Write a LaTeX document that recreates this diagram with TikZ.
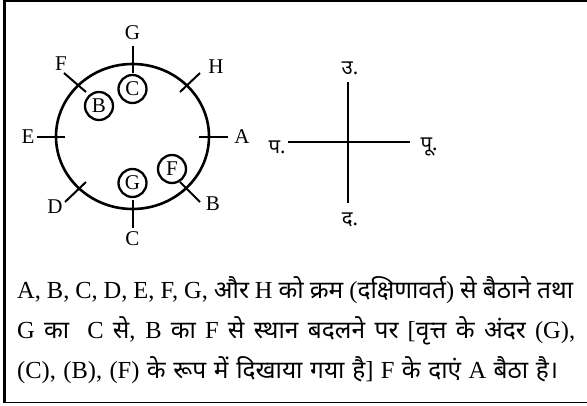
\documentclass[tikz,border=0pt]{standalone}
\usepackage{fontspec}
\setmainfont{Liberation Serif}
\newfontfamily\dev[Script=Devanagari,Scale=1.0]{Noto Sans}
\begin{document}
\begin{tikzpicture}[x=1pt,y=-1pt,
  lbl/.style={font=\fontsize{21}{24}\selectfont, inner sep=0pt},
  inner/.style={circle, draw, line width=2.3pt, minimum size=28pt, inner sep=0pt, font=\fontsize{21}{24}\selectfont},
  tick/.style={line width=2pt},
  cmp/.style={line width=2.7pt},
  dir/.style={font=\dev\fontsize{20.3}{22}\selectfont, inner sep=0pt},
  txt/.style={font=\fontsize{24.5}{27}\selectfont, inner sep=0pt, anchor=base west}]
\useasboundingbox (0,0) rectangle (587,406);
% frame
\draw[line width=2.6pt] (4.5,0) -- (4.5,403);
\draw[line width=1.3pt] (4.5,1) -- (587,1);
\draw[line width=1.3pt] (4.5,402.5) -- (587,402.5);
% circle
\coordinate (O) at (132.5,136.5);
\draw[line width=2.6pt] (O) ellipse [x radius=76.5pt, y radius=72.5pt];
% ticks
\coordinate (tGa) at (132.5,46); \coordinate (tGb) at (132.5,73);
\coordinate (tHa) at (200,73);  \coordinate (tHb) at (180,92);
\coordinate (tAa) at (228,137); \coordinate (tAb) at (199,137);
\coordinate (tBa) at (200,202); \coordinate (tBb) at (180,182);
\coordinate (tCa) at (132.5,228); \coordinate (tCb) at (132.5,200);
\coordinate (tDa) at (65,202);  \coordinate (tDb) at (86,182);
\coordinate (tEa) at (37,137);  \coordinate (tEb) at (65,137);
\coordinate (tFa) at (64,73);   \coordinate (tFb) at (86,92);
\foreach \p in {G,H,A,B,C,D,E,F} \draw[tick] (t\p a) -- (t\p b);
% outer labels
\node[lbl] (lG) at (132.5,33) {G};
\node[lbl] (lH) at (216,67) {H};
\node[lbl] (lA) at (242,137) {A};
\node[lbl] (lB) at (213,204) {B};
\node[lbl] (lC) at (132.5,239) {C};
\node[lbl] (lD) at (55,207) {D};
\node[lbl] (lE) at (28,137) {E};
\node[lbl] (lF) at (61,64) {F};
% inner circled labels
\node[inner] (iC) at (132.5,89) {C};
\node[inner] (iB) at (99,106) {B};
\node[inner] (iG) at (132.5,183) {G};
\node[inner] (iF) at (172,169) {F};
% compass
\coordinate (cN) at (348,82); \coordinate (cS) at (348,203);
\coordinate (cW) at (288,142); \coordinate (cE) at (410,142);
\draw[cmp] (cN) -- (cS);
\draw[cmp] (cW) -- (cE);
\node[dir] (dN) at (350,68) {उ.};
\node[dir] (dW) at (277,147) {प.};
\node[dir] (dE) at (429,147) {पू.};
\node[dir] (dS) at (350,220) {द.};
% text
\node[txt] (t1) at (17,299) {\makebox[556pt][s]{A, B, C, D, E, F, G, {\dev और} H {\dev को क्रम} ({\dev दक्षिणावर्त}) {\dev से बैठाने तथा}}};
\node[txt] (t2) at (17,339) {\makebox[558pt][s]{G {\dev का}\ \ C {\dev से}, B {\dev का} F {\dev से स्थान बदलने पर} [{\dev वृत्त के अंदर} (G),}};
\node[txt] (t3) at (17,378) {\makebox[541pt][s]{(C), (B), (F) {\dev के रूप में दिखाया गया है}] F {\dev के दाएं} A {\dev बैठा है।}}};
\end{tikzpicture}
\end{document}
